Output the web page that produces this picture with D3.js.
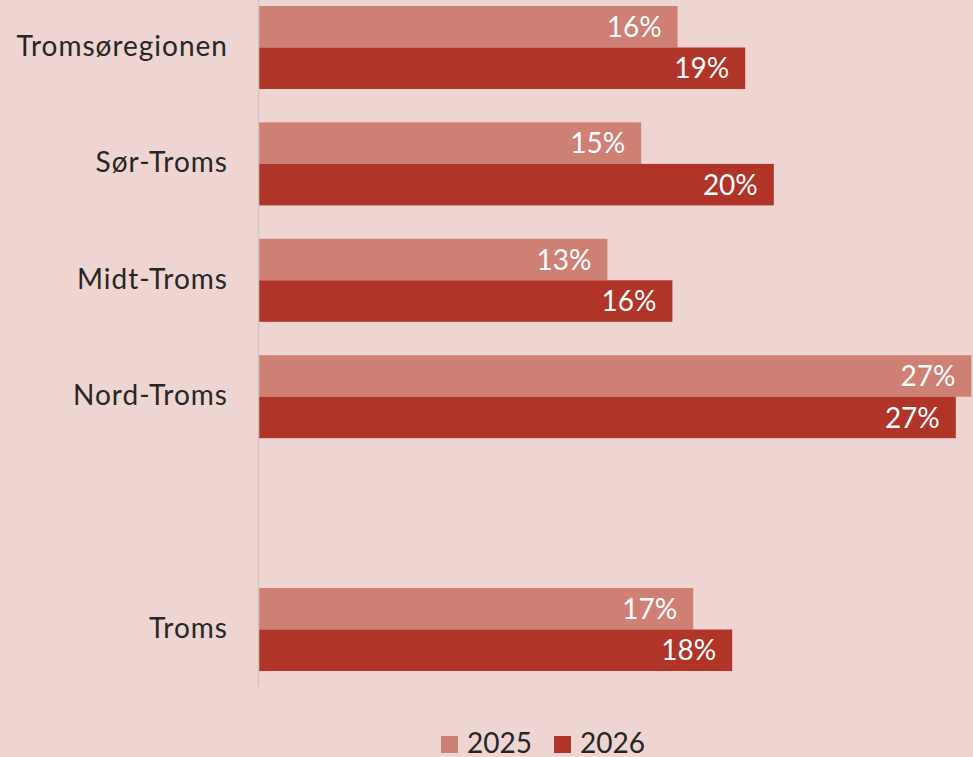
<!DOCTYPE html>
<html><head><meta charset="utf-8">
<script src="https://cdn.jsdelivr.net/npm/d3@7/dist/d3.min.js"></script>
<style>
html,body{margin:0;padding:0;background:#efd5d1;}
svg{display:block;}
text{font-family:Lato,"Open Sans",sans-serif;}
</style></head>
<body>
<svg id="chart" width="973" height="757"></svg>
<script>
const categories = ["Tromsøregionen","Sør-Troms","Midt-Troms","Nord-Troms","","Troms"];
const seriesNames = ["2025","2026"];
const values2025 = [16.1, 14.7, 13.4, 27.4, null, 16.7];
const values2026 = [18.7, 19.8, 15.9, 26.8, null, 18.2];
const colors = ["#cf8075","#b03428"];

const W = 973, H = 757;
const svg = d3.select("#chart");
svg.append("rect").attr("width",W).attr("height",H).attr("fill","#efd5d1");

const x = d3.scaleLinear().domain([0, 27.5]).range([259, 974]);
const y = d3.scaleBand().domain(categories.map((c,i)=>i)).range([-10.7, 687.7]).paddingInner(0.287).paddingOuter(0.1435);
const ySub = d3.scaleBand().domain(seriesNames).range([0, y.bandwidth()]);

const data = categories.map((c,i)=>({cat:c, i, vals:[values2025[i], values2026[i]]}));

const g = svg.append("g");
const groups = g.selectAll("g.cat").data(data.filter(d=>d.cat!=="")).join("g")
  .attr("class","cat").attr("transform", d=>`translate(0,${y(d.i)})`);

groups.selectAll("rect").data(d=>d.vals.map((v,k)=>({v,k,s:seriesNames[k]}))).join("rect")
  .attr("x", x(0)).attr("y", d=>ySub(d.s)).attr("width", d=>x(d.v)-x(0)).attr("height", ySub.bandwidth())
  .attr("fill", d=>colors[d.k]);

const fmt = d3.format(".0f");
groups.selectAll("text.val").data(d=>d.vals.map((v,k)=>({v,k,s:seriesNames[k]}))).join("text")
  .attr("class","val")
  .attr("x", d=>Math.min(x(d.v), W) - 16)
  .attr("y", d=>ySub(d.s)+ySub.bandwidth()/2)
  .attr("dy","0.36em")
  .attr("text-anchor","end").attr("fill","#ffffff").attr("font-size",28)
  .text(d=>fmt(d.v)+"%");

// category labels
svg.selectAll("text.cat").data(data.filter(d=>d.cat!=="")).join("text")
  .attr("class","cat")
  .attr("x", 228).attr("y", d=>y(d.i)+y.bandwidth()/2)
  .attr("dy","0.3em")
  .attr("text-anchor","end").attr("fill","#262626").attr("font-size",28)
  .attr("letter-spacing","1px")
  .text(d=>d.cat);

// axis line
svg.append("line").attr("x1",258.5).attr("x2",258.5).attr("y1",0).attr("y2",686.5)
  .attr("stroke","#d2c6c4").attr("stroke-width",1.5);

// legend
const legend = svg.append("g");
const lx = [441, 554];
seriesNames.forEach((s,k)=>{
  legend.append("rect").attr("x",lx[k]).attr("y",736).attr("width",17).attr("height",17).attr("fill",colors[k]);
  legend.append("text").attr("x",lx[k]+26).attr("y",752.5).attr("font-size",28).attr("fill","#262626").text(s);
});
</script>
</body></html>
